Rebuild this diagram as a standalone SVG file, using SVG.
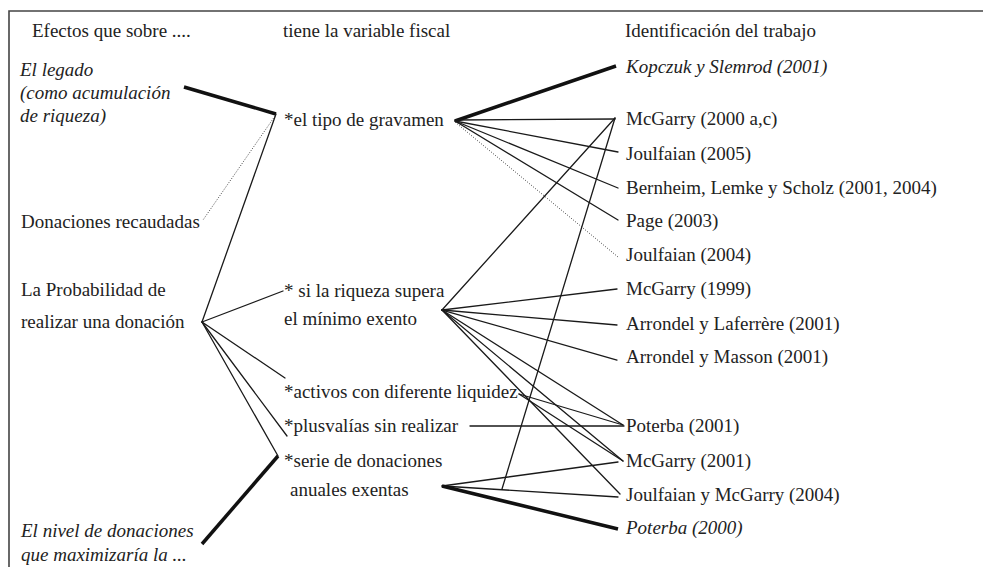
<svg xmlns="http://www.w3.org/2000/svg" width="983" height="576" viewBox="0 0 983 576">
<style>
text{font-family:"Liberation Serif","Times New Roman",serif;font-size:19px;fill:#222}
.it{font-style:italic}
.ln{stroke:#1a1a1a;stroke-width:1.3;fill:none;stroke-linecap:round}
.tk{stroke:#111;stroke-width:3.5;fill:none}
.dt{stroke:#444;stroke-width:1;stroke-dasharray:1 1.6;fill:none}
.fr{stroke:#444;stroke-width:1.6;fill:none}
</style>
<rect width="983" height="576" fill="#fff"/>
<path class="fr" d="M9,567 V11 H983"/>
<g id="headers">
<text x="32" y="37">Efectos que sobre ....</text>
<text x="283" y="37">tiene la variable fiscal</text>
<text x="625" y="37">Identificación del trabajo</text>
</g>
<g id="n-legado"><text class="it" x="20" y="76">El legado</text><text class="it" x="20" y="99">(como acumulación</text><text class="it" x="20" y="122">de riqueza)</text></g>
<g id="n-donaciones"><text x="21" y="228">Donaciones recaudadas</text></g>
<g id="n-probabilidad"><text x="21" y="296">La Probabilidad de</text><text x="21" y="328">realizar una donación</text></g>
<g id="n-nivel"><text class="it" x="21" y="537">El nivel de donaciones</text><text class="it" x="21" y="561">que maximizaría la ...</text></g>
<g id="n-gravamen"><text x="284" y="126">*el tipo de gravamen</text></g>
<g id="n-riqueza"><text x="284" y="297">* si la riqueza supera</text><text x="284" y="325">el mínimo exento</text></g>
<g id="n-activos"><text x="284" y="398">*activos con diferente liquidez</text></g>
<g id="n-plusvalias"><text x="284" y="432">*plusvalías sin realizar</text></g>
<g id="n-serie"><text x="284" y="467">*serie de donaciones</text><text x="290" y="496">anuales exentas</text></g>
<g id="n-kopczuk"><text class="it" x="626" y="73">Kopczuk y Slemrod (2001)</text></g>
<g id="n-mcgarry2000"><text x="626" y="125">McGarry (2000 a,c)</text></g>
<g id="n-joulfaian2005"><text x="626" y="160">Joulfaian (2005)</text></g>
<g id="n-bernheim"><text x="626" y="194">Bernheim, Lemke y Scholz (2001, 2004)</text></g>
<g id="n-page"><text x="626" y="227">Page (2003)</text></g>
<g id="n-joulfaian2004"><text x="626" y="261">Joulfaian (2004)</text></g>
<g id="n-mcgarry1999"><text x="626" y="295">McGarry (1999)</text></g>
<g id="n-arrondel-l"><text x="626" y="330">Arrondel y Laferrère (2001)</text></g>
<g id="n-arrondel-m"><text x="626" y="363">Arrondel y Masson (2001)</text></g>
<g id="n-poterba2001"><text x="626" y="432">Poterba (2001)</text></g>
<g id="n-mcgarry2001"><text x="626" y="467">McGarry (2001)</text></g>
<g id="n-joulfaian-mcgarry"><text x="626" y="501">Joulfaian y McGarry (2004)</text></g>
<g id="n-poterba2000"><text class="it" x="626" y="534">Poterba (2000)</text></g>
<g id="connectors">
<line class="tk" x1="184" y1="87" x2="276" y2="114"/>
<line class="ln" x1="276" y1="114" x2="202" y2="322"/>
<line class="dt" x1="275" y1="116" x2="203" y2="220"/>
<line class="ln" x1="202" y1="322" x2="283" y2="291"/>
<line class="ln" x1="202" y1="322" x2="285" y2="378"/>
<line class="ln" x1="202" y1="322" x2="287" y2="436"/>
<line class="ln" x1="202" y1="322" x2="278" y2="456"/>
<line class="tk" x1="278" y1="456" x2="202" y2="544"/>
<line class="tk" x1="455" y1="121" x2="616" y2="66"/>
<line class="ln" x1="455" y1="120" x2="615" y2="119"/>
<line class="ln" x1="455" y1="121" x2="618" y2="152"/>
<line class="ln" x1="455" y1="121" x2="618" y2="188"/>
<line class="ln" x1="455" y1="121" x2="618" y2="220"/>
<line class="dt" x1="455" y1="122" x2="618" y2="257"/>
<line class="ln" x1="442" y1="310" x2="615" y2="118"/>
<line class="ln" x1="615" y1="118" x2="502" y2="489"/>
<line class="ln" x1="442" y1="310" x2="617" y2="289"/>
<line class="ln" x1="442" y1="310" x2="617" y2="325"/>
<line class="ln" x1="442" y1="310" x2="617" y2="360"/>
<line class="ln" x1="442" y1="310" x2="623" y2="425"/>
<line class="ln" x1="442" y1="310" x2="623" y2="461"/>
<line class="ln" x1="442" y1="310" x2="620" y2="494"/>
<line class="ln" x1="519" y1="394" x2="623" y2="425"/>
<line class="ln" x1="519" y1="394" x2="623" y2="461"/>
<line class="ln" x1="470" y1="426" x2="624" y2="426"/>
<line class="ln" x1="442" y1="486" x2="618" y2="462"/>
<line class="ln" x1="442" y1="486" x2="618" y2="497"/>
<line class="tk" x1="442" y1="486" x2="618" y2="529"/>
</g>
</svg>
